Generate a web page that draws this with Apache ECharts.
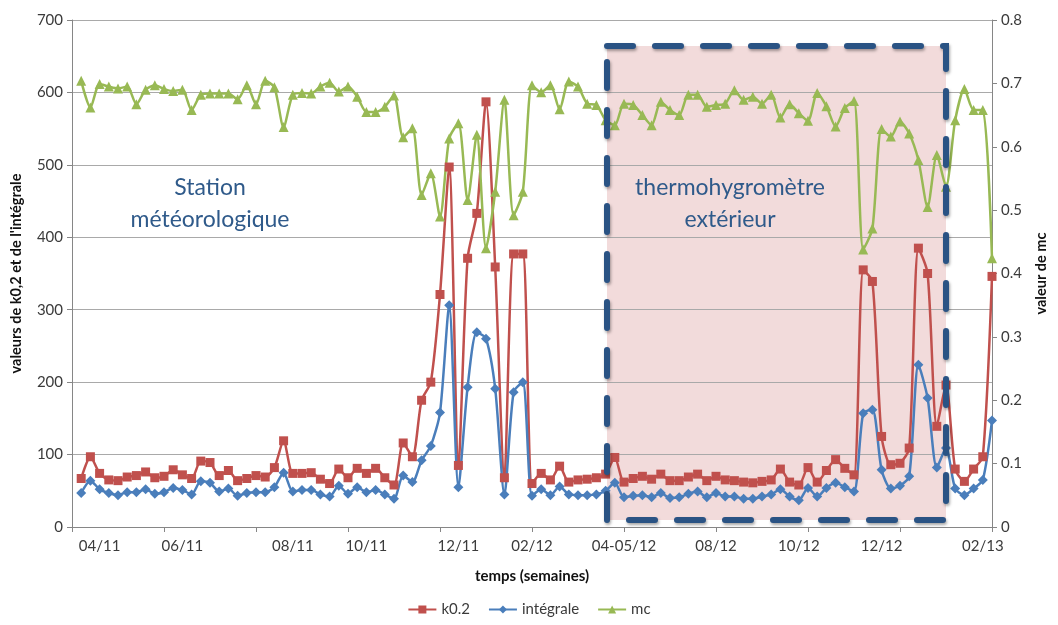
<!DOCTYPE html>
<html><head><meta charset="utf-8">
<script src="https://cdn.jsdelivr.net/npm/echarts@6/dist/echarts.min.js"></script>
<style>html,body{margin:0;padding:0;background:#fff}#c{width:1058px;height:625px}</style>
</head><body><div id="c"></div>
<script>
// week index (0..100) carrying a date label, and the labels
const labelWeeks = [3, 12, 24, 32, 42, 50, 60, 70, 79, 88, 99];
const labelTexts = ["04/11", "06/11", "08/11", "10/11", "12/11", "02/12", "04-05/12", "08/12", "10/12", "12/12", "02/13"];
const weekCount = 101;

const k02 = [null,
  67, 97, 74, 65, 64, 69, 71, 76, 68, 70,
  79, 72, 67, 91, 89, 71, 78, 64, 67, 71,
  69, 82, 119, 74, 74, 75, 66, 60, 80, 68,
  81, 74, 81, 68, 58, 116, 97, 175, 200, 321,
  497, 85, 371, 433, 587, 359, 68, 377, 377, 60,
  74, 65, 84, 62, 65, 66, 68, 73, 96, 62,
  67, 70, 66, 73, 64, 64, 69, 73, 64, 70,
  65, 64, 62, 61, 63, 65, 80, 62, 58, 82,
  62, 78, 93, 81, 72, 355, 339, 125, 86, 88,
  109, 385, 350, 139, 196, 80, 63, 80, 97, 346];

const integrale = [null,
  47, 64, 52, 47, 44, 48, 48, 52, 46, 48,
  54, 51, 45, 63, 61, 49, 53, 43, 47, 48,
  48, 55, 75, 49, 51, 51, 45, 42, 57, 46,
  55, 48, 51, 45, 39, 71, 62, 92, 112, 158,
  306, 55, 193, 269, 260, 191, 45, 186, 200, 43,
  52, 44, 56, 45, 44, 44, 45, 50, 61, 41,
  43, 44, 41, 47, 40, 41, 46, 49, 41, 47,
  42, 42, 39, 39, 42, 45, 52, 42, 37, 54,
  42, 54, 61, 55, 49, 157, 162, 79, 53, 57,
  70, 224, 178, 82, 109, 53, 44, 53, 65, 147];

const mc = [null,
  0.704, 0.662, 0.699, 0.695, 0.692, 0.695, 0.667, 0.690, 0.697, 0.691,
  0.688, 0.690, 0.658, 0.682, 0.684, 0.684, 0.684, 0.675, 0.697, 0.667,
  0.704, 0.694, 0.631, 0.682, 0.685, 0.684, 0.695, 0.701, 0.687, 0.695,
  0.679, 0.655, 0.655, 0.663, 0.681, 0.615, 0.629, 0.524, 0.558, 0.490,
  0.613, 0.637, 0.516, 0.619, 0.440, 0.529, 0.674, 0.492, 0.529, 0.697,
  0.686, 0.697, 0.659, 0.703, 0.695, 0.668, 0.666, 0.642, 0.634, 0.668,
  0.666, 0.650, 0.634, 0.671, 0.658, 0.650, 0.682, 0.682, 0.663, 0.666,
  0.668, 0.689, 0.674, 0.679, 0.668, 0.682, 0.646, 0.667, 0.653, 0.641,
  0.685, 0.664, 0.632, 0.661, 0.672, 0.438, 0.471, 0.628, 0.616, 0.640,
  0.621, 0.579, 0.505, 0.587, 0.537, 0.642, 0.691, 0.658, 0.658, 0.424];

const categories = [];
for (let i = 0; i < weekCount; i++) {
  const p = labelWeeks.indexOf(i);
  categories.push(p >= 0 ? labelTexts[p] : "w" + i);
}

const FONT = 'Lato, "Open Sans", sans-serif';
const AX = '#868686';
const TXT = '#3b3b3b';

const chart = echarts.init(document.getElementById('c'), null, {renderer: 'canvas'});
chart.setOption({
  animation: false,
  backgroundColor: '#ffffff',
  textStyle: {fontFamily: FONT},
  grid: {left: 72, right: 66, top: 20, bottom: 98, containLabel: false},
  legend: {
    bottom: 3, left: 'center',
    itemWidth: 28, itemHeight: 10, itemGap: 18,
    textStyle: {fontFamily: FONT, fontSize: 15, color: TXT},
    data: ['k0.2', 'intégrale', 'mc']
  },
  xAxis: {
    type: 'category', data: categories, boundaryGap: false,
    name: 'temps (semaines)', nameLocation: 'middle', nameGap: 42,
    nameTextStyle: {fontFamily: FONT, fontWeight: 'bold', fontSize: 15, color: '#111'},
    axisLine: {lineStyle: {color: AX, width: 1}},
    axisTick: {show: true, length: 5, interval: function (i) { return i % 10 === 0; }, lineStyle: {color: AX}},
    axisLabel: {
      interval: 0, margin: 12, fontSize: 15, color: TXT, fontFamily: FONT,
      formatter: function (v) { return labelTexts.indexOf(v) >= 0 ? v : ''; }
    },
    splitLine: {show: false}
  },
  yAxis: [{
    type: 'value', min: 0, max: 700, interval: 100,
    name: "valeurs de k0,2 et de l'intégrale", nameLocation: 'middle', nameGap: 48, nameRotate: 90,
    nameTextStyle: {fontFamily: FONT, fontWeight: 'bold', fontSize: 14.5, color: '#111'},
    axisLine: {show: true, lineStyle: {color: AX}},
    axisTick: {show: true, length: 5, lineStyle: {color: AX}},
    axisLabel: {fontSize: 15, color: TXT, margin: 9, fontFamily: FONT},
    splitLine: {show: true, lineStyle: {color: '#a9a9a9', width: 1}}
  }, {
    type: 'value', min: 0, max: 0.8, interval: 0.1, position: 'right',
    name: 'valeur de mc', nameLocation: 'middle', nameGap: 42, nameRotate: 90,
    nameTextStyle: {fontFamily: FONT, fontWeight: 'bold', fontSize: 14.5, color: '#111'},
    axisLine: {show: true, lineStyle: {color: AX}},
    axisTick: {show: true, length: 5, lineStyle: {color: AX}},
    axisLabel: {fontSize: 15, color: TXT, margin: 9, fontFamily: FONT,
      formatter: function (v) { return v === 0 ? '0' : v.toFixed(1); }},
    splitLine: {show: false}
  }],
  graphic: [
    {type: 'rect', z: -10, silent: true,
     shape: {x: 607, y: 46, width: 339, height: 474},
     style: {fill: '#f2dbdb'}},
    {type: 'rect', z: 100, silent: true,
     shape: {x: 607, y: 46, width: 339, height: 474},
     style: {fill: null, stroke: '#2a5384', lineWidth: 6, lineDash: [26, 22], lineCap: 'round',
             shadowBlur: 3, shadowColor: 'rgba(0,0,0,0.35)', shadowOffsetX: 1, shadowOffsetY: 2}},
    {type: 'text', z: 50, silent: true, x: 210, y: 204,
     style: {text: 'Station\nmétéorologique', fill: '#2f5a8a', font: '23px ' + FONT,
             align: 'center', verticalAlign: 'middle', lineHeight: 32}},
    {type: 'text', z: 50, silent: true, x: 730, y: 204,
     style: {text: 'thermohygromètre\nextérieur', fill: '#2f5a8a', font: '23px ' + FONT,
             align: 'center', verticalAlign: 'middle', lineHeight: 32}}
  ],
  series: [{
    name: 'k0.2', type: 'line', yAxisIndex: 0, data: k02, smooth: 0.25,
    symbol: 'rect', symbolSize: 9, showSymbol: true,
    lineStyle: {color: '#c0504d', width: 2.5}, itemStyle: {color: '#c0504d'}
  }, {
    name: 'intégrale', type: 'line', yAxisIndex: 0, data: integrale, smooth: 0.25,
    symbol: 'diamond', symbolSize: 10, showSymbol: true,
    lineStyle: {color: '#4a7ebb', width: 2.5}, itemStyle: {color: '#4a7ebb'}
  }, {
    name: 'mc', type: 'line', yAxisIndex: 1, data: mc, smooth: 0.25,
    symbol: 'triangle', symbolSize: 10, showSymbol: true,
    lineStyle: {color: '#98b954', width: 2.5}, itemStyle: {color: '#98b954'}
  }]
});
</script>
</body></html>
